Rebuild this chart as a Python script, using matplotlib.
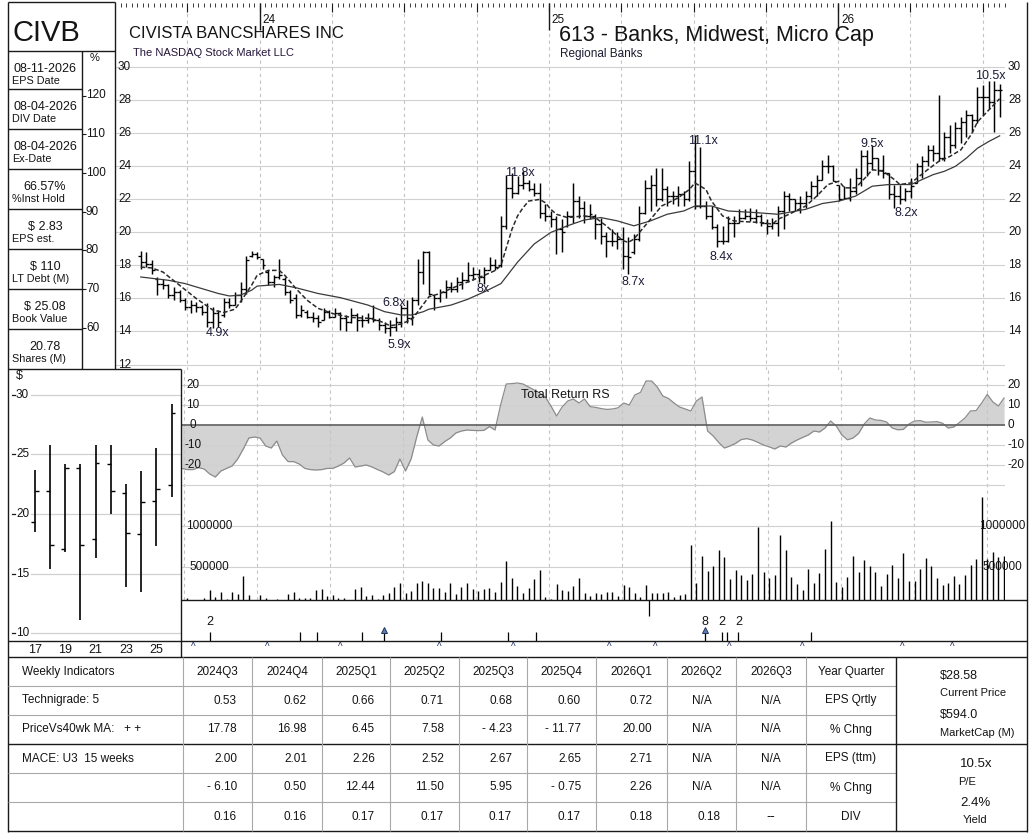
"""
Scheda settimanale CIVB (Civista Bancshares): barre OHLC con medie mobili,
Total Return RS, volumi, eventi, grafico annuale e tabella fondamentali.
"""
import numpy as np
import matplotlib.pyplot as plt

W, H = 1032, 840
plt.rcParams['font.family'] = ['Liberation Sans', 'DejaVu Sans']

TXT = '#141414'
GRID = '#d0d0d0'
VGRID = '#c4c4c4'
LINE = '#1a1a1a'
LIGHT = '#a8a8a8'

# ---------------------------------------------------------------- dati
# barre settimanali (settimana 0 = meta' agosto 2023)
HIGH = [18.9, 18.8, 18.3, 17.3, 17.2, 16.9, 16.7, 16.5, 16.0, 15.9,
        15.8, 15.6, 15.7, 15.5, 15.3, 16.0, 16.0, 16.4, 17.0, 18.6,
        18.9, 18.8, 18.4, 17.7, 17.4, 18.4, 17.3, 16.5, 16.3, 15.6,
        15.3, 15.2, 15.0, 15.4, 15.3, 15.4, 15.2, 15.0, 15.4, 15.1,
        15.0, 15.1, 15.6, 14.8, 14.6, 14.7, 14.9, 15.6, 15.9, 16.1,
        18.4, 18.9, 18.9, 16.2, 16.6, 17.1, 17.0, 17.3, 17.6, 18.2,
        17.9, 17.8, 17.9, 18.5, 18.4, 21.0, 23.5, 23.6, 23.4, 23.7,
        23.2, 23.0, 23.0, 21.7, 21.3, 21.0, 20.8, 21.3, 23.0, 22.2,
        21.9, 21.7, 21.1, 20.9, 20.0, 20.2, 20.0, 20.3, 19.7, 19.9,
        21.6, 23.2, 23.5, 23.9, 23.9, 22.8, 22.5, 22.8, 22.5, 24.3,
        25.9, 25.2, 21.9, 21.6, 20.5, 20.4, 21.0, 21.0, 21.4, 21.4,
        21.5, 21.4, 21.1, 20.8, 20.9, 21.6, 22.5, 22.4, 22.0, 22.2,
        22.5, 23.1, 23.5, 24.4, 24.7, 24.1, 22.9, 22.8, 23.3, 23.9,
        25.0, 25.0, 25.3, 24.5, 24.7, 23.6, 22.9, 22.9, 22.7, 23.3,
        24.2, 24.6, 25.3, 25.3, 28.3, 26.1, 26.5, 26.7, 27.0, 27.4,
        27.2, 28.8, 28.9, 29.2, 29.2, 29.0]
LOW = [17.8, 17.9, 17.5, 16.2, 16.6, 16.0, 15.9, 15.8, 15.3, 15.1,
       15.2, 15.0, 14.3, 14.2, 14.3, 14.9, 15.4, 15.6, 15.8, 16.3,
       18.5, 18.4, 17.8, 16.8, 16.7, 17.2, 16.2, 15.7, 14.8, 14.9,
       14.8, 14.6, 14.3, 14.7, 14.8, 14.9, 14.1, 14.0, 14.5, 14.0,
       14.3, 14.5, 14.6, 14.1, 13.9, 13.7, 14.0, 14.3, 14.5, 14.4,
       15.6, 16.9, 16.2, 15.3, 15.8, 16.0, 16.4, 16.4, 16.6, 17.0,
       17.1, 17.0, 16.9, 17.7, 17.7, 17.9, 20.2, 22.1, 22.3, 22.6,
       22.5, 22.2, 20.9, 20.7, 20.3, 18.7, 18.8, 20.3, 20.6, 20.9,
       20.6, 20.8, 19.6, 19.3, 18.5, 19.2, 19.0, 17.8, 17.5, 18.7,
       19.5, 21.1, 21.3, 21.6, 21.9, 21.6, 21.7, 21.6, 21.6, 21.9,
       21.4, 21.5, 20.8, 20.2, 19.1, 19.3, 19.4, 19.7, 20.6, 20.8,
       20.7, 20.6, 20.4, 19.9, 20.2, 19.8, 20.2, 21.3, 21.3, 21.2,
       21.5, 22.0, 22.2, 23.2, 23.6, 23.1, 21.9, 22.0, 21.9, 22.3,
       22.8, 23.4, 23.8, 23.5, 23.3, 22.0, 21.5, 21.7, 21.9, 22.1,
       23.0, 23.3, 24.0, 24.3, 24.3, 24.3, 24.8, 25.1, 25.4, 25.8,
       26.1, 26.6, 27.1, 27.5, 26.1, 27.0]
OPEN = [18.6, 18.2, 18.1, 17.2, 16.9, 16.8, 16.2, 16.4, 15.9, 15.5,
        15.6, 15.5, 15.2, 14.6, 15.1, 15.0, 15.8, 15.6, 16.2, 16.6,
        18.6, 18.7, 18.4, 17.6, 17.0, 17.3, 17.2, 16.4, 16.0, 15.0,
        15.2, 14.9, 14.8, 14.7, 15.2, 14.9, 15.1, 14.8, 14.6, 15.0,
        14.7, 14.7, 14.8, 14.7, 14.4, 14.2, 14.3, 14.6, 15.4, 14.8,
        15.9, 17.6, 18.8, 16.2, 16.0, 16.4, 16.7, 16.6, 17.0, 17.1,
        17.4, 17.5, 17.3, 17.7, 18.0, 18.0, 20.4, 22.7, 22.4, 22.9,
        23.0, 22.6, 22.4, 21.2, 21.0, 20.8, 20.2, 20.4, 21.0, 21.9,
        21.5, 21.0, 21.0, 20.5, 19.8, 19.5, 19.5, 19.6, 18.6, 18.8,
        19.6, 21.2, 22.7, 22.9, 22.0, 22.6, 22.2, 22.2, 22.3, 22.0,
        23.7, 21.6, 21.6, 21.0, 20.3, 19.5, 19.5, 20.6, 20.6, 20.9,
        21.0, 20.9, 21.0, 20.6, 20.4, 20.6, 21.3, 22.2, 22.0, 21.8,
        21.8, 22.2, 22.8, 23.2, 24.0, 24.0, 22.9, 22.0, 22.1, 22.5,
        23.3, 24.6, 24.2, 24.5, 23.8, 23.6, 22.3, 22.2, 22.0, 22.5,
        23.0, 24.0, 24.3, 25.0, 24.8, 24.5, 25.8, 25.3, 26.3, 26.7,
        27.1, 26.8, 28.2, 28.2, 27.9, 28.6]
CLOSE = [18.2, 18.1, 17.7, 16.9, 16.8, 16.2, 16.4, 15.9, 15.5, 15.6,
         15.5, 15.2, 14.6, 15.1, 14.6, 15.8, 15.6, 16.2, 16.6, 18.3,
         18.7, 18.5, 18.0, 17.0, 17.3, 17.4, 16.4, 15.9, 15.0, 15.3,
         14.9, 14.8, 14.6, 15.2, 14.9, 15.1, 14.8, 14.6, 15.0, 14.7,
         14.7, 14.8, 14.7, 14.4, 14.2, 14.3, 14.6, 15.4, 14.8, 15.9,
         17.6, 18.8, 16.3, 16.0, 16.4, 16.7, 16.6, 17.0, 17.1, 17.4,
         17.5, 17.3, 17.7, 18.0, 17.9, 20.4, 22.7, 22.4, 22.9, 23.0,
         22.6, 22.4, 21.2, 21.0, 20.8, 20.2, 20.0, 21.0, 21.9, 21.5,
         21.0, 21.1, 20.5, 19.8, 19.5, 19.5, 19.6, 18.6, 18.5, 19.6,
         21.2, 22.7, 22.9, 22.0, 22.6, 22.2, 22.2, 22.3, 22.0, 23.7,
         21.6, 21.6, 21.0, 20.3, 19.5, 19.5, 20.6, 20.6, 20.9, 21.0,
         20.9, 21.0, 20.6, 20.4, 20.6, 21.3, 22.2, 22.0, 21.8, 21.8,
         22.2, 22.8, 23.2, 24.0, 24.0, 23.1, 22.0, 22.1, 22.5, 23.3,
         24.6, 24.2, 24.5, 23.8, 23.6, 22.3, 22.2, 22.0, 22.5, 22.8,
         24.0, 24.3, 25.0, 24.8, 24.5, 25.8, 25.3, 26.3, 26.7, 27.1,
         26.8, 28.2, 28.2, 27.9, 28.6, 28.6]

# medie mobili (settimana, prezzo)
MA_SHORT_WK = [0, 2, 4, 7, 10, 13, 15, 17, 18, 20, 21, 23, 25, 26, 27, 28, 30, 32,
               35, 38, 41, 43, 45, 47, 49, 50, 52, 54, 56, 59, 62, 64, 65, 66, 67,
               68, 69, 70, 72, 73, 74, 75, 77, 80, 82, 84, 86, 87, 88, 89, 90, 92,
               94, 97, 99, 100, 102, 103, 105, 107, 109, 112, 114, 115, 117, 120,
               122, 124, 126, 127, 129, 131, 132, 134, 136, 137, 139, 142, 144, 146,
               148, 150, 151, 153, 155]
MA_SHORT = [17.9, 17.85, 17.6, 16.8, 16.0, 15.3, 15.15, 15.35, 15.8, 16.8, 17.4, 17.7,
            17.7, 17.4, 17.0, 16.6, 15.9, 15.4, 15.05, 14.85, 14.8, 14.65, 14.35, 14.45,
            14.75, 15.2, 16.1, 16.3, 16.6, 17.0, 17.4, 17.7, 18.0, 19.1, 20.2, 21.0,
            21.5, 21.9, 22.0, 21.8, 21.4, 21.1, 20.9, 21.0, 20.9, 20.4, 19.8, 19.5,
            19.4, 19.6, 20.0, 20.8, 21.6, 22.1, 22.6, 23.0, 22.6, 21.9, 21.0, 20.7,
            20.65, 20.6, 20.5, 20.8, 21.1, 21.6, 22.2, 22.9, 23.1, 22.7, 22.7, 23.4,
            23.8, 23.7, 23.2, 22.9, 23.0, 23.8, 24.3, 24.6, 25.0, 26.0, 26.7, 27.4,
            28.1]
MA_LONG_WK = [0, 5, 8, 11, 14, 16, 18, 20, 21, 25, 28, 32, 36, 41, 44, 47, 49, 51,
              52, 56, 59, 62, 65, 68, 71, 74, 77, 80, 83, 86, 89, 92, 95, 98, 100,
              103, 106, 111, 115, 120, 123, 126, 129, 132, 135, 139, 141, 143, 145,
              147, 149, 151, 153, 155]
MA_LONG = [17.3, 17.1, 16.9, 16.6, 16.3, 16.15, 16.2, 16.5, 16.75, 16.85, 16.65,
           16.3, 16.05, 15.6, 15.2, 15.0, 15.0, 15.2, 15.35, 15.6, 15.95, 16.4,
           16.9, 18.2, 19.3, 20.0, 20.4, 20.75, 20.9, 20.7, 20.4, 20.7, 21.1, 21.3,
           21.6, 21.6, 21.3, 21.2, 21.1, 21.4, 21.75, 21.9, 22.2, 22.8, 22.9, 22.9,
           23.2, 23.5, 23.7, 24.0, 24.5, 25.1, 25.5, 25.85]

# multipli P/E annotati sul grafico
PE_WK = [13.8, 46.7, 45.8, 61.7, 68.5, 88.8, 101.5, 104.8, 131.9, 138.2, 153.4]
PE_PRICE = [13.9, 13.2, 15.7, 16.55, 23.6, 17.0, 25.55, 18.5, 25.35, 21.15, 29.5]
PE_TEXT = ['4.9x', '5.9x', '6.8x', '8x', '11.8x', '8.7x', '11.1x', '8.4x', '9.5x',
           '8.2x', '10.5x']

# Total Return RS e volumi (settimane 8..155, le prime sono coperte dal riquadro annuale)
RS_FIRST_WK = 8
RS = [-21.7, -22.3, -22.3, -21.3, -22, -24.5, -26, -23, -21.7, -20.5,
      -17, -12, -6.5, -6, -6.5, -10.5, -11.5, -8, -15, -18.3,
      -18.3, -19.5, -21.7, -22.3, -22.5, -22.3, -21.7, -21.7, -20.5, -19,
      -16.5, -21, -20.5, -20, -21, -22.3, -23.5, -25, -23.3, -17,
      -23, -17, -6, 4, -7.5, -10, -10.5, -8.3, -6.5, -4,
      -3, -2.5, -2.7, -2.8, -2.7, -0.8, -2.5, 10, 20.5, 20.7,
      21, 20.5, 19, 17.5, 16, 14, 9.5, 4.5, 9, 12,
      13, 11, 13, 9.2, 8.8, 8.2, 7.8, 8, 8.6, 11,
      10, 15, 16.3, 22, 22, 19, 14.5, 13.3, 11, 9,
      8, 7, 12, 14, -3, -5.5, -8.8, -11.5, -10.5, -9.2,
      -7.3, -6.8, -7.5, -8.7, -10, -10.9, -12, -10.5, -11, -9,
      -7.5, -6.2, -5, -3, -3.5, -1.5, 2, -0.5, -5, -7.4,
      -6.5, -4.2, 0.5, 3.5, 2.5, 2.3, 1.5, -1.5, -2.4, -2.2,
      0.5, 2, 2.2, 1.4, 1.5, 1.7, 0.9, -1.5, -1, 1.2,
      3.5, 7, 7.2, 11, 15.3, 11.5, 9.5, 13.5]
VOLUME_K = [110, 124, 108, 108, 124, 225, 144, 201, 112, 205,
            177, 395, 165, 108, 165, 124, 110, 112, 110, 177,
            197, 124, 124, 124, 225, 237, 153, 165, 124, 124,
            110, 237, 266, 153, 165, 112, 165, 185, 257, 306,
            185, 213, 306, 334, 306, 253, 245, 201, 306, 173,
            257, 306, 233, 213, 233, 245, 201, 322, 576, 366,
            274, 185, 245, 354, 467, 136, 112, 294, 225, 213,
            274, 366, 185, 153, 185, 177, 197, 201, 153, 282,
            266, 185, 144, 282, 193, 193, 185, 205, 136, 165,
            173, 770, 306, 637, 455, 516, 709, 621, 362, 467,
            407, 346, 415, 984, 439, 374, 403, 891, 709, 379,
            294, 225, 475, 306, 427, 722, 1061, 322, 266, 387,
            637, 447, 588, 516, 443, 274, 419, 528, 370, 669,
            334, 334, 479, 609, 516, 366, 282, 306, 395, 298,
            407, 528, 596, 1347, 600, 689, 621, 637]

# eventi sotto i volumi
EVENT_WK = [13.05, 29.1, 32.1, 40.2, 54.3, 66.3, 71.3, 104.6, 105.4, 107.5, 120.5]
ARROW_WK = [44.2, 101.5]
COUNT_WK = [13.05, 101.5, 104.6, 107.5]
COUNT_TEXT = ['2', '8', '2', '2']
DOWN_WK = [91.5]
CARET_WK = [10.1, 23.3, 36.4, 54.0, 67.3, 84.4, 92.7, 105.9, 119.0, 136.8, 145.7]

# asse dei tempi: trimestri e inizio anno (in settimane)
QUARTER_WK = [8.4, 21.45, 34.5, 47.55, 60.6, 73.65, 86.7, 99.75, 112.8, 125.85,
              138.9, 151.95]
YEAR_WK = [21.45, 73.65, 125.85]
YEAR_TEXT = ['24', '25', '26']

# barre annuali
YEARS = [17, 18, 19, 20, 21, 22, 23, 24, 25, 26]
Y_HIGH = [23.7, 25.8, 24.2, 24.2, 25.8, 25.75, 22.55, 23.6, 25.5, 29.2]
Y_LOW = [18.5, 15.4, 16.8, 11.1, 16.3, 20.0, 13.9, 13.5, 17.3, 21.4]
Y_OPEN = [19.3, 21.9, 17.1, 23.9, 17.9, 24.2, 21.8, 18.3, 21.1, 22.4]
Y_CLOSE = [21.9, 17.4, 23.9, 17.45, 24.3, 21.9, 18.4, 21.0, 22.1, 28.5]

# riquadro informativo
INFO_VALUES = ['08-11-2026', '08-04-2026', '08-04-2026', '66.57%', '$ 2.83',
               '$ 110', '$ 25.08', '20.78']
INFO_LABELS = ['EPS Date', 'DIV Date', 'Ex-Date', '%Inst Hold', 'EPS est.',
               'LT Debt (M)', 'Book Value', 'Shares (M)']

# tabella
QUARTERS = ['2024Q3', '2024Q4', '2025Q1', '2025Q2', '2025Q3', '2025Q4',
            '2026Q1', '2026Q2', '2026Q3']
EPS_QRTLY = ['0.53', '0.62', '0.66', '0.71', '0.68', '0.60', '0.72', 'N/A', 'N/A']
EPS_Q_CHG = ['17.78', '16.98', '6.45', '7.58', '- 4.23', '- 11.77', '20.00', 'N/A', 'N/A']
EPS_TTM = ['2.00', '2.01', '2.26', '2.52', '2.67', '2.65', '2.71', 'N/A', 'N/A']
EPS_TTM_CHG = ['- 6.10', '0.50', '12.44', '11.50', '5.95', '- 0.75', '2.26', 'N/A', 'N/A']
DIVIDENDS = ['0.16', '0.16', '0.17', '0.17', '0.17', '0.17', '0.18', '0.18', '--']
ROW_LEFT = ['Weekly Indicators', 'Technigrade: 5', 'PriceVs40wk MA:   + +',
            'MACE: U3  15 weeks', '', '']
ROW_RIGHT = ['Year Quarter', 'EPS Qrtly', '% Chng', 'EPS (ttm)', '% Chng', 'DIV']

# ---------------------------------------------------------------- layout (pixel)
X0_PX, DX_PX = 137.0, 5.594          # pixel della settimana 0, pixel per settimana
PRICE_Y12, PX_PER_USD = 364.5, 16.51


def wk_lim(a, b):
    return (a - X0_PX) / DX_PX, (b - X0_PX) / DX_PX


def price_at(y):
    return 12 + (PRICE_Y12 - y) / PX_PER_USD


fig = plt.figure(figsize=(W / 100, H / 100), dpi=100)


def px_axes(x0, y0, x1, y1):
    ax = fig.add_axes([x0 / W, 1 - y1 / H, (x1 - x0) / W, (y1 - y0) / H])
    for s in ax.spines.values():
        s.set_visible(False)
    return ax


def quarter_grid(ax):
    ax.set_xticks(QUARTER_WK)
    ax.grid(axis='x', which='major', color=VGRID, ls=(0, (3, 3)), lw=0.8)


def price_panel():
    ax = px_axes(115, 3, 1005, 370)
    ax.set_xlim(*wk_lim(115, 1005))
    ax.set_ylim(price_at(370), price_at(3))
    ax.set_facecolor('none')
    ticks = list(range(12, 31, 2))
    ax.set_yticks(ticks)
    ax.grid(axis='y', color=GRID, lw=0.8)
    quarter_grid(ax)
    ax.set_xticks(np.arange(QUARTER_WK[0] - 13.05, 156, 13.05 / 13), minor=True)
    ax.xaxis.set_ticks_position('top')
    ax.tick_params(axis='x', which='major', direction='in', length=6.5, width=0.8,
                   labeltop=False, labelbottom=False, color=LINE)
    ax.tick_params(axis='x', which='minor', direction='in', length=3, width=0.6,
                   color=LINE)
    ax.tick_params(axis='y', length=0, labelleft=False)
    ax.vlines(YEAR_WK, 1 - 27 / 367, 1, transform=ax.get_xaxis_transform(),
              color=LINE, lw=1.0)
    for wk, t in zip(YEAR_WK, YEAR_TEXT):
        ax.annotate(t, (wk, 1), xycoords=('data', 'axes fraction'), xytext=(3, -17),
                    textcoords='offset pixels', ha='left', va='center', fontsize=8.5,
                    color=TXT)
    for v in ticks:
        ax.annotate(str(v), (0, v), xycoords=('axes fraction', 'data'), xytext=(3, 0),
                    textcoords='offset pixels', ha='left', va='center', fontsize=8.5,
                    color=TXT, annotation_clip=False)
        if v >= 14:
            ax.annotate(str(v), (1, v), xycoords=('axes fraction', 'data'),
                        xytext=(3, 0), textcoords='offset pixels', ha='left',
                        va='center', fontsize=8.5, color=TXT, annotation_clip=False)

    wk = np.arange(len(HIGH))
    tick = 0.5
    ax.vlines(wk, LOW, HIGH, color='black', lw=1.05)
    ax.hlines(OPEN, wk - tick, wk, color='black', lw=0.95)
    ax.hlines(CLOSE, wk, wk + tick, color='black', lw=0.95)
    ax.plot(MA_LONG_WK, MA_LONG, color='#3a3a3a', lw=0.9)
    ax.plot(MA_SHORT_WK, MA_SHORT, color='#2a2a2a', lw=1.1, ls=(0, (3, 1.5)))
    for x, y, t in zip(PE_WK, PE_PRICE, PE_TEXT):
        ax.text(x, y, t, ha='center', va='center', fontsize=9, color='#1c1c38')


def pct_column():
    ax = px_axes(82, 50.5, 115, 368)
    ax.set_facecolor('none')
    val = lambda y: 120 - (y - 95.5) / 3.872
    ax.set_ylim(val(368), val(50.5))
    ax.set_xlim(0, 1)
    ax.set_xticks([])
    ax.set_yticks(range(60, 121, 10))
    ax.tick_params(axis='y', direction='in', length=3, width=0.8, labelleft=False,
                   color=LINE)
    for v in range(60, 121, 10):
        ax.text(0.12, v, str(v), ha='left', va='center', fontsize=8.5, color=TXT)


def rs_panel():
    ax = px_axes(181, 370, 1005, 480)
    ax.set_xlim(*wk_lim(181, 1005))
    ax.set_ylim(-27.5, 27.5)
    ax.set_facecolor('none')
    wk = np.arange(RS_FIRST_WK, RS_FIRST_WK + len(RS))
    quarter_grid(ax)
    ax.set_yticks([-20, -10, 10, 20])
    ax.grid(axis='y', color=GRID, lw=0.8)
    ax.tick_params(length=0, labelleft=False, labelbottom=False)
    ax.fill_between(wk, RS, 0, color='#d3d3d3', lw=0)
    ax.plot(wk, RS, color='#8c8c8c', lw=0.9)
    ax.axhline(0, color='#5e5e5e', lw=1.2)
    for v in (-20, -10, 0, 10, 20):
        ax.annotate(str(v), (0, v), xycoords=('axes fraction', 'data'), xytext=(12, 0),
                    textcoords='offset pixels', ha='center', va='center', fontsize=8.5,
                    color=TXT)
        ax.annotate(str(v), (1, v), xycoords=('axes fraction', 'data'), xytext=(2, 0),
                    textcoords='offset pixels', ha='left', va='center', fontsize=8.5,
                    color=TXT, annotation_clip=False)
    ax.text(0.467, 0.77, 'Total Return RS', transform=ax.transAxes, ha='center',
            va='center', fontsize=9, color=TXT)


def volume_panel():
    ax = px_axes(181, 480, 1005, 600)
    ax.set_xlim(*wk_lim(181, 1005))
    ax.set_ylim(104000, 1557000)
    ax.set_facecolor('none')
    quarter_grid(ax)
    ax.set_yticks([500000, 1000000, 1500000])
    ax.grid(axis='y', color=GRID, lw=0.8)
    ax.tick_params(length=0, labelleft=False, labelbottom=False)
    wk = np.arange(RS_FIRST_WK, RS_FIRST_WK + len(VOLUME_K))
    ax.vlines(wk, 0, np.array(VOLUME_K) * 1000, color='black', lw=1.0)
    for v in (500000, 1000000):
        ax.annotate(str(v), (0, v), xycoords=('axes fraction', 'data'), xytext=(28, 0),
                    textcoords='offset pixels', ha='center', va='center', fontsize=8.5,
                    color=TXT)
        ax.annotate(str(v), (1, v), xycoords=('axes fraction', 'data'), xytext=(-3, 0),
                    textcoords='offset pixels', ha='center', va='center', fontsize=8.5,
                    color=TXT, annotation_clip=False)


def event_rows():
    ax = px_axes(181, 600, 1005, 641)
    ax.set_xlim(*wk_lim(181, 1005))
    ax.set_ylim(0, 1)
    ax.set_facecolor('none')
    ax.set_xticks([])
    ax.set_yticks([])
    ax.vlines(EVENT_WK + ARROW_WK, 0, 0.22, color='black', lw=0.9)
    ax.plot(ARROW_WK, [0.26] * len(ARROW_WK), ls='none', marker='^', ms=5,
            color='#5b7fb5', mec='#24345a', mew=0.7)
    for x, t in zip(COUNT_WK, COUNT_TEXT):
        ax.text(x, 0.46, t, ha='center', va='center', fontsize=9, color=TXT)
    ax.vlines(DOWN_WK, 0.6, 1.0, color='black', lw=0.9)

    cr = px_axes(181, 641, 1005, 657)
    cr.set_xlim(*wk_lim(181, 1005))
    cr.set_ylim(0, 1)
    cr.set_facecolor('none')
    cr.set_xticks([])
    cr.set_yticks([])
    for x in CARET_WK:
        cr.text(x, 0.6, '^', ha='center', va='center', fontsize=7, color='#1e2a60')


def annual_panel():
    ax = px_axes(8, 368.5, 181, 641.7)
    ax.set_xlim(15.243, 26.625)
    ax.set_ylim(9.31, 32.2)
    ax.set_facecolor('none')
    for v in (10, 15, 20, 25, 30):
        ax.axhline(v, xmin=23 / 173, xmax=1, color=GRID, lw=0.9)
        ax.axhline(v, xmin=4 / 173, xmax=7.5 / 173, color=LINE, lw=0.9)
        ax.text(8 / 173, v, str(v), transform=ax.get_yaxis_transform(), ha='left',
                va='center', fontsize=8.5, color=TXT)
    ax.set_yticks([])
    ax.set_xticks([17, 19, 21, 23, 25])
    ax.set_xticklabels(['17', '19', '21', '23', '25'], fontsize=9, color=TXT)
    ax.tick_params(axis='x', length=0, pad=1.5)
    ax.text(8 / 173, 0.971, '$', transform=ax.transAxes, ha='left', va='center',
            fontsize=9, color=TXT)
    yr = np.array(YEARS)
    ax.vlines(yr, Y_LOW, Y_HIGH, color='black', lw=1.2)
    ax.hlines(Y_OPEN, yr - 0.26, yr, color='black', lw=1.0)
    ax.hlines(Y_CLOSE, yr, yr + 0.26, color='black', lw=1.0)


def frame_and_text():
    ov = px_axes(0, 0, W, H)
    ov.set_xlim(0, W)
    ov.set_ylim(H, 0)
    ov.set_facecolor('none')
    ov.set_axis_off()

    def hl(y, x0, x1, c=LINE, lw=1.0):
        ov.plot([x0, x1], [y, y], color=c, lw=lw, solid_capstyle='butt')

    def vl(x, y0, y1, c=LINE, lw=1.0):
        ov.plot([x, x], [y0, y1], color=c, lw=lw, solid_capstyle='butt')

    # cornice e riquadri a sinistra
    hl(2, 8, 115)
    vl(8, 2, 832)
    vl(1027, 2, 832)
    vl(115, 2, 368.5)
    hl(50.5, 8, 115)
    vl(82, 50.5, 368.5)
    for k in range(1, 8):
        hl(48.5 + 40 * k, 8, 82)
    hl(368.5, 8, 181)
    vl(181, 368.5, 657)
    hl(600, 181, 1027)
    hl(641, 8, 1027)

    ov.text(12, 33, 'CIVB', fontsize=21, ha='left', va='center', color=TXT)
    ov.text(95, 58, '%', fontsize=8, ha='center', va='center', color=TXT)
    tops = [50.5] + [48.5 + 40 * k for k in range(1, 8)]
    for top, v, lab in zip(tops, INFO_VALUES, INFO_LABELS):
        ov.text(45, top + 18.5, v, fontsize=9, ha='center', va='center', color=TXT)
        ov.text(12.5, top + 31, lab, fontsize=7.8, ha='left', va='center', color=TXT)

    # intestazione
    ov.text(129, 33, 'CIVISTA BANCSHARES INC', fontsize=12, ha='left', va='center',
            color=TXT)
    ov.text(133, 53, 'The NASDAQ Stock Market LLC', fontsize=8, ha='left',
            va='center', color='#24163a')
    ov.text(559, 35, '613 - Banks, Midwest, Micro Cap', fontsize=15.5, ha='left',
            va='center', color=TXT)
    ov.text(560, 54.5, 'Regional Banks', fontsize=8.5, ha='left', va='center',
            color='#1c1c30')

    # tabella
    cols = [8, 183, 252, 322, 390, 459, 527, 596, 667, 736, 806, 896, 1027]
    rows = [657, 686, 715, 744, 773, 802, 831]
    for y in (686, 715, 773, 802):
        hl(y, 8, 896, c=LIGHT, lw=0.8)
    for y in (657, 744, 831):
        hl(y, 8, 1027)
    for x in cols[1:-2]:
        vl(x, 657, 831, c=LIGHT, lw=0.8)
    vl(896, 657, 831)

    table = [QUARTERS, EPS_QRTLY, EPS_Q_CHG, EPS_TTM, EPS_TTM_CHG, DIVIDENDS]
    fs = 8.5
    for r, values in enumerate(table):
        yc = (rows[r] + rows[r + 1]) / 2
        ov.text(22, yc, ROW_LEFT[r], fontsize=fs, ha='left', va='center', color=TXT)
        ov.text((cols[10] + cols[11]) / 2, yc, ROW_RIGHT[r], fontsize=fs,
                ha='center', va='center', color=TXT)
        for c, v in enumerate(values):
            x0, x1 = cols[c + 1], cols[c + 2]
            if r == 0 or v in ('N/A', '--'):
                ov.text((x0 + x1) / 2, yc, v, fontsize=fs, ha='center', va='center',
                        color=TXT, family=['DejaVu Sans'] if v == '--' else None)
            else:
                ov.text(x1 - 15, yc, v, fontsize=fs, ha='right', va='center',
                        color=TXT)

    ov.text(940, 676, '$28.58', fontsize=9, ha='left', va='center', color=TXT)
    ov.text(940, 692.5, 'Current Price', fontsize=8, ha='left', va='center', color=TXT)
    ov.text(940, 715, '$594.0', fontsize=9, ha='left', va='center', color=TXT)
    ov.text(940, 733, 'MarketCap (M)', fontsize=8, ha='left', va='center', color=TXT)
    ov.text(976, 764, '10.5x', fontsize=9.5, ha='center', va='center', color=TXT)
    ov.text(967, 782, 'P/E', fontsize=8, ha='center', va='center', color=TXT)
    ov.text(975, 803, '2.4%', fontsize=9.5, ha='center', va='center', color=TXT)
    ov.text(975, 820, 'Yield', fontsize=8, ha='center', va='center', color=TXT)


def main():
    price_panel()
    pct_column()
    rs_panel()
    volume_panel()
    event_rows()
    annual_panel()
    frame_and_text()
    fig.savefig('out.png', dpi=100, facecolor='white')


if __name__ == '__main__':
    main()
